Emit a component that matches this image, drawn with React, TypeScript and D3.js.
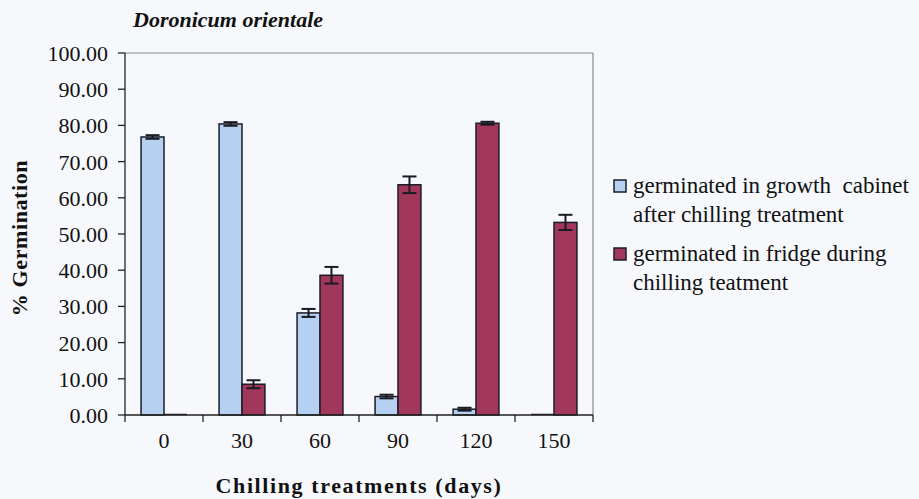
import React from "react";
import * as d3 from "d3";

const categories = ["0", "30", "60", "90", "120", "150"];
const seriesNames = [
  "germinated in growth  cabinet|after chilling treatment",
  "germinated in fridge during|chilling teatment",
];
const cabinetValues = [76.8, 80.4, 28.2, 5.1, 1.6, 0];
const cabinetErrors = [0.5, 0.5, 1.1, 0.5, 0.4, 0];
const fridgeValues = [0, 8.5, 38.6, 63.6, 80.6, 53.2];
const fridgeErrors = [0, 1.1, 2.3, 2.3, 0.4, 2.1];
const yTicks = [0, 10, 20, 30, 40, 50, 60, 70, 80, 90, 100];
const seriesColors = ["#b5d0f1", "#a1375b"];

const W = 919;
const H = 499;
const plot = { left: 125, right: 593, top: 53, bottom: 415 };
const FONT = "'Liberation Serif', 'Times New Roman', serif";

export default function App() {
  const x = d3.scaleBand().domain(categories).range([plot.left, plot.right]).padding(0);
  const xs = d3
    .scaleBand()
    .domain(["cab", "fri"])
    .range([0, x.bandwidth()])
    .paddingInner(0)
    .paddingOuter(0.7);
  const y = d3.scaleLinear().domain([0, 100]).range([plot.bottom, plot.top]);

  const series = [
    { key: "cab", values: cabinetValues, errors: cabinetErrors, color: seriesColors[0] },
    { key: "fri", values: fridgeValues, errors: fridgeErrors, color: seriesColors[1] },
  ];
  const bw = xs.bandwidth();
  const capW = 14;

  const boundaries = [...categories.map((c) => x(c)!), plot.right];

  return (
    <svg
      width={W}
      height={H}
      style={{ position: "absolute", left: 0, top: 0, display: "block", background: "#f6f8fc" }}
    >
      <rect x={0} y={0} width={W} height={H} fill="#f6f8fc" />
      <text
        x={133}
        y={27}
        fontFamily={FONT}
        fontWeight="bold"
        fontStyle="italic"
        fontSize={22}
        fill="#111"
      >
        Doronicum orientale
      </text>

      {/* frame top/right */}
      <line x1={plot.left} x2={plot.right} y1={plot.top} y2={plot.top} stroke="#8a8a90" strokeWidth={1.2} />
      <line x1={plot.right} x2={plot.right} y1={plot.top} y2={plot.bottom} stroke="#8a8a90" strokeWidth={1.2} />

      {/* bars */}
      {series.map((s) =>
        categories.map((c, i) => {
          const bx = x(c)! + xs(s.key)!;
          const v = s.values[i];
          const yt = y(v);
          if (v === 0) {
            return (
              <line
                key={s.key + c}
                x1={bx}
                x2={bx + bw}
                y1={plot.bottom - 0.5}
                y2={plot.bottom - 0.5}
                stroke="#1c1c28"
                strokeWidth={1.5}
              />
            );
          }
          return (
            <rect
              key={s.key + c}
              x={bx}
              y={yt}
              width={bw}
              height={plot.bottom - yt}
              fill={s.color}
              stroke="#1c1c28"
              strokeWidth={1.5}
            />
          );
        })
      )}

      {/* error bars */}
      {series.map((s) =>
        categories.map((c, i) => {
          const e = s.errors[i];
          if (!e) return null;
          const cx = x(c)! + xs(s.key)! + bw / 2;
          const v = s.values[i];
          const y1 = y(v + e);
          const y2 = y(v - e);
          return (
            <g key={"e" + s.key + c} stroke="#1a1a22" strokeWidth={2}>
              <line x1={cx} x2={cx} y1={y1} y2={y2} />
              <line x1={cx - capW / 2} x2={cx + capW / 2} y1={y1} y2={y1} />
              <line x1={cx - capW / 2} x2={cx + capW / 2} y1={y2} y2={y2} />
            </g>
          );
        })
      )}

      {/* axes */}
      <line x1={plot.left} x2={plot.left} y1={plot.top} y2={plot.bottom} stroke="#222" strokeWidth={1.3} />
      <line x1={plot.left} x2={plot.right} y1={plot.bottom} y2={plot.bottom} stroke="#222" strokeWidth={1.3} />
      {yTicks.map((t) => (
        <g key={"yt" + t}>
          <line x1={plot.left - 7} x2={plot.left} y1={y(t)} y2={y(t)} stroke="#222" strokeWidth={1.3} />
          <text
            x={108}
            y={y(t) + 8}
            textAnchor="end"
            fontFamily={FONT}
            fontSize={22}
            fill="#111"
          >
            {d3.format(".2f")(t)}
          </text>
        </g>
      ))}
      {boundaries.map((b, i) => (
        <line key={"xt" + i} x1={b} x2={b} y1={plot.bottom} y2={plot.bottom + 7} stroke="#222" strokeWidth={1.3} />
      ))}
      {categories.map((c) => (
        <text
          key={"xl" + c}
          x={x(c)! + x.bandwidth() / 2}
          y={448}
          textAnchor="middle"
          fontFamily={FONT}
          fontSize={22}
          fill="#111"
        >
          {c}
        </text>
      ))}

      <text
        x={(plot.left + plot.right) / 2}
        y={493}
        textAnchor="middle"
        fontFamily={FONT}
        fontWeight="bold"
        fontSize={22}
        letterSpacing={1.6}
        fill="#111"
      >
        Chilling treatments (days)
      </text>
      <text
        transform={`translate(27,238) rotate(-90)`}
        textAnchor="middle"
        fontFamily={FONT}
        fontWeight="bold"
        fontSize={22}
        letterSpacing={0.6}
        fill="#111"
      >
        % Germination
      </text>

      {/* legend */}
      {seriesNames.map((name, i) => {
        const top = 180 + i * 68;
        const lines = name.split("|");
        return (
          <g key={"lg" + i}>
            <rect x={614} y={top} width={12} height={12} fill={seriesColors[i]} stroke="#1c1c28" strokeWidth={1.5} />
            {lines.map((ln, j) => (
              <text
                key={j}
                x={633}
                y={top + 13 + j * 29}
                fontFamily={FONT}
                fontSize={23}
                fill="#111"
                style={{ whiteSpace: "pre" }}
              >
                {ln}
              </text>
            ))}
          </g>
        );
      })}
    </svg>
  );
}
